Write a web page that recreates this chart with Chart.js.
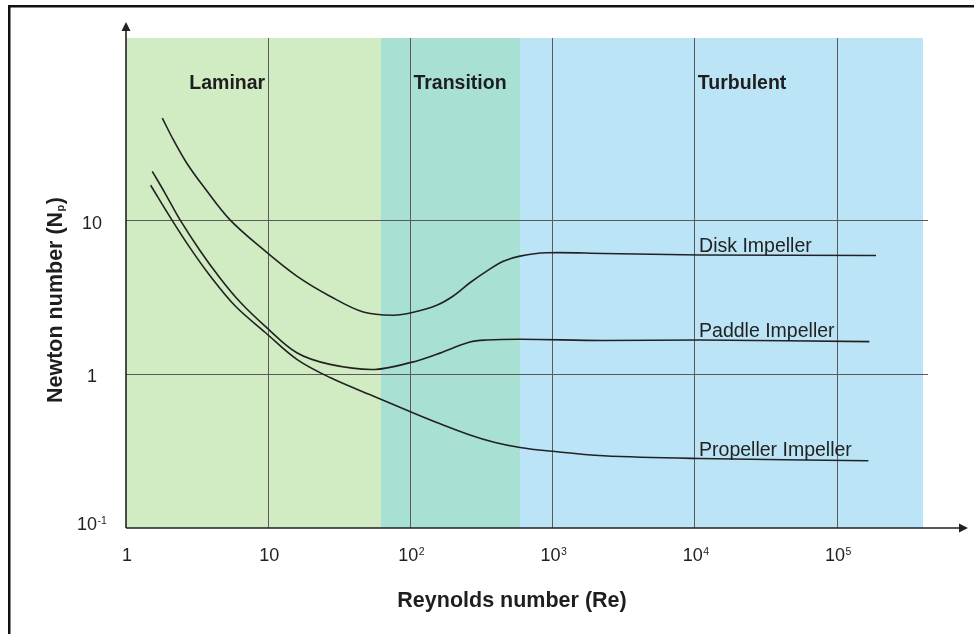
<!DOCTYPE html>
<html><head><meta charset="utf-8">
<script src="https://cdn.jsdelivr.net/npm/chart.js@4"></script>
<style>html,body{margin:0;padding:0;background:#fff;}canvas{display:block;}</style>
</head><body>
<canvas id="c" width="974" height="634"></canvas>
<script>
// ---- data ----
const xTickValues = [1, 10, 100, 1000, 10000, 100000];
const xTickBase   = ['1', '10', '10', '10', '10', '10'];
const xTickExp    = ['', '', '2', '3', '4', '5'];
const yTickValues = [0.1, 1, 10];
const yTickBase   = ['10', '1', '10'];
const yTickExp    = ['-1', '', ''];

const regionNames  = ['Laminar', 'Transition', 'Turbulent'];
const regionStart  = [1, 62, 590];
const regionEnd    = [62, 590, 402000];
const regionColors = ['#d1ebc3', '#a8e0d4', '#bbe5f7'];

const seriesNames = ['Disk Impeller', 'Paddle Impeller', 'Propeller Impeller'];

const diskRe = [1.80, 2.15, 2.67, 3.50, 5.39, 9.54, 15.9, 27.2, 46.6, 75.8, 103, 153, 200, 262, 344, 450, 590, 909, 2273, 10880, 188000];
const diskNp = [46.4, 33.6, 23.7, 16.7, 10.1, 6.32, 4.35, 3.22, 2.54, 2.42, 2.52, 2.81, 3.23, 3.94, 4.69, 5.44, 5.87, 6.17, 6.11, 5.97, 5.93];

const paddleRe = [1.53, 1.88, 2.40, 3.31, 4.58, 6.34, 9.54, 15.9, 27.2, 56, 103, 153, 262, 344, 590, 2262, 10880, 168700];
const paddleNp = [20.9, 15.1, 10.1, 6.39, 4.23, 2.95, 2.05, 1.38, 1.16, 1.075, 1.20, 1.35, 1.62, 1.67, 1.69, 1.66, 1.67, 1.63];

const propRe = [1.49, 2.10, 2.82, 3.90, 5.84, 9.54, 15.9, 27.2, 57.9, 103, 153, 262, 394, 590, 909, 2273, 10880, 166000];
const propNp = [16.96, 10.1, 6.64, 4.37, 2.79, 1.87, 1.25, 0.952, 0.706, 0.564, 0.486, 0.403, 0.360, 0.334, 0.318, 0.295, 0.283, 0.274];

// ---- chart ----
const FONT = "'Liberation Sans', Arial, Helvetica, sans-serif";
Chart.defaults.font.family = FONT;
const lineStyle = {borderColor: '#222', borderWidth: 1.6, pointRadius: 0, fill: false, tension: 0.35};
const pts = (xs, ys) => xs.map((x, i) => ({x: x, y: ys[i]}));

function drawPow(c, base, exp, x, y, align) {
  c.font = '18px ' + FONT;
  const wb = c.measureText(base).width;
  c.font = '10.5px ' + FONT;
  const we = exp ? c.measureText(exp).width + 0.5 : 0;
  const total = wb + we;
  let x0 = align === 'center' ? x - total / 2 : (align === 'right' ? x - total : x);
  c.textAlign = 'left';
  c.textBaseline = 'alphabetic';
  c.font = '18px ' + FONT;
  c.fillText(base, x0, y);
  if (exp) { c.font = '10.5px ' + FONT; c.fillText(exp, x0 + wb + 0.5, y - 6); }
}

const decor = {
  id: 'decor',
  beforeDraw(chart) {
    const c = chart.ctx, a = chart.chartArea, xs = chart.scales.x;
    c.save();
    c.fillStyle = '#fff';
    c.fillRect(0, 0, chart.width, chart.height);
    c.fillStyle = '#111';
    c.fillRect(8, 5, 2.5, chart.height - 5);
    c.fillRect(8, 5, chart.width - 8, 2.5);
    regionNames.forEach((n, i) => {
      const x0 = Math.max(a.left, xs.getPixelForValue(regionStart[i]));
      const x1 = xs.getPixelForValue(regionEnd[i]);
      c.fillStyle = regionColors[i];
      c.fillRect(x0, a.top, x1 - x0, a.bottom - a.top);
    });
    c.restore();
  },
  afterDatasetsDraw(chart) {
    const c = chart.ctx, a = chart.chartArea, xs = chart.scales.x, ys = chart.scales.y;
    c.save();
    c.strokeStyle = '#222'; c.fillStyle = '#222'; c.lineWidth = 1.6;
    c.beginPath();
    c.moveTo(a.left, a.bottom); c.lineTo(a.left, a.top - 8);
    c.moveTo(a.left, a.bottom); c.lineTo(a.right + 32, a.bottom);
    c.stroke();
    c.beginPath();
    c.moveTo(a.left, a.top - 16); c.lineTo(a.left - 4.5, a.top - 7); c.lineTo(a.left + 4.5, a.top - 7); c.closePath(); c.fill();
    c.beginPath();
    c.moveTo(a.right + 40, a.bottom); c.lineTo(a.right + 31, a.bottom - 4.5); c.lineTo(a.right + 31, a.bottom + 4.5); c.closePath(); c.fill();

    // tick labels
    c.fillStyle = '#222';
    xs.ticks.forEach((t) => {
      const k = xTickValues.indexOf(t.value);
      if (k < 0) return;
      drawPow(c, xTickBase[k], xTickExp[k], xs.getPixelForValue(t.value) + 1, a.bottom + 33, 'center');
    });
    ys.ticks.forEach((t) => {
      const k = yTickValues.indexOf(t.value);
      if (k < 0) return;
      const py = ys.getPixelForValue(t.value);
      drawPow(c, yTickBase[k], yTickExp[k], 92, py + (k === 0 ? 2 : 8), 'center');
    });

    // region labels
    c.fillStyle = '#1e1e1e';
    c.font = 'bold 19.5px ' + FONT;
    c.textBaseline = 'alphabetic';
    const regionLabelAt = [10, 100, 10000];
    const regionAlign = ['right', 'left', 'left'];
    regionNames.forEach((n, i) => {
      c.textAlign = regionAlign[i];
      const px = xs.getPixelForValue(regionLabelAt[i]) + (regionAlign[i] === 'right' ? -3 : 3);
      c.fillText(n, px, ys.getPixelForValue(72));
    });

    // series labels
    c.font = '19.5px ' + FONT;
    c.textAlign = 'left';
    c.fillStyle = '#222';
    chart.data.datasets.forEach((ds, i) => {
      const p = ds.data.find(d => d.x === 10880);
      c.fillText(seriesNames[i], xs.getPixelForValue(p.x) - 1, ys.getPixelForValue(p.y) - 3);
    });

    // x title
    c.font = 'bold 21.5px ' + FONT;
    c.textAlign = 'center';
    c.fillStyle = '#1e1e1e';
    c.fillText('Reynolds number (Re)', 512, 607);

    // y title with subscript
    c.translate(61.5, 300);
    c.rotate(-Math.PI / 2);
    c.textAlign = 'left';
    const mainF = 'bold 21.5px ' + FONT, subF = 'bold 11px ' + FONT;
    c.font = mainF; const w1 = c.measureText('Newton number (N').width; const w3 = c.measureText(')').width;
    c.font = subF; const w2 = c.measureText('p').width + 1;
    const x0 = -(w1 + w2 + w3) / 2;
    c.font = mainF; c.fillText('Newton number (N', x0, 0);
    c.font = subF; c.fillText('p', x0 + w1 + 0.5, 2);
    c.font = mainF; c.fillText(')', x0 + w1 + w2, 0);
    c.restore();
  }
};

new Chart(document.getElementById('c').getContext('2d'), {
  type: 'line',
  data: {
    datasets: [
      Object.assign({label: seriesNames[0], data: pts(diskRe, diskNp)}, lineStyle),
      Object.assign({label: seriesNames[1], data: pts(paddleRe, paddleNp)}, lineStyle),
      Object.assign({label: seriesNames[2], data: pts(propRe, propNp)}, lineStyle)
    ]
  },
  options: {
    responsive: false, animation: false, devicePixelRatio: 1,
    layout: {padding: {top: 38, right: 46, left: 0, bottom: 0}},
    plugins: {legend: {display: false}, tooltip: {enabled: false}},
    scales: {
      x: {
        type: 'logarithmic', min: 1, max: 436000,
        afterBuildTicks: s => { s.ticks = xTickValues.map(v => ({value: v})); },
        afterFit: s => { s.height = 106; },
        border: {display: false},
        grid: {drawTicks: false, lineWidth: 1, color: ctx => (ctx.tick && ctx.tick.value === 1) ? 'rgba(0,0,0,0)' : '#5a5a5a'},
        ticks: {display: false, autoSkip: false}
      },
      y: {
        type: 'logarithmic', min: 0.1, max: 154,
        afterBuildTicks: s => { s.ticks = yTickValues.map(v => ({value: v})); },
        afterFit: s => { s.width = 126; },
        border: {display: false},
        grid: {drawTicks: false, lineWidth: 1, color: ctx => (ctx.tick && ctx.tick.value === 0.1) ? 'rgba(0,0,0,0)' : '#5a5a5a'},
        ticks: {display: false, autoSkip: false}
      }
    }
  },
  plugins: [decor]
});
</script>
</body></html>
